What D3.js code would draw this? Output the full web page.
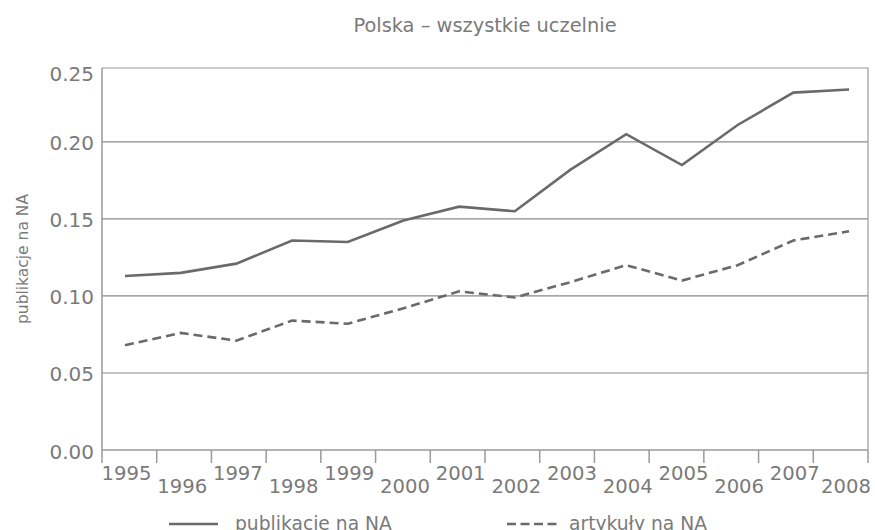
<!DOCTYPE html>
<html><head><meta charset="utf-8">
<script src="https://cdn.jsdelivr.net/npm/d3@7"></script>
<style>
html,body{margin:0;padding:0;background:#fff;}
svg{display:block;}
text{font-family:"DejaVu Sans",sans-serif;fill:#7a7a7a;}
</style></head>
<body>
<svg id="chart" width="875" height="530"></svg>
<script>
const years = ["1995","1996","1997","1998","1999","2000","2001","2002","2003","2004","2005","2006","2007","2008"];
const publikacje = [0.113,0.115,0.121,0.136,0.135,0.149,0.158,0.155,0.182,0.205,0.185,0.211,0.232,0.234];
const artykuly = [0.068,0.076,0.071,0.084,0.082,0.092,0.103,0.099,0.109,0.120,0.110,0.120,0.136,0.142];
const yTicks = [0,0.05,0.10,0.15,0.20,0.25];
const title = "Polska – wszystkie uczelnie";
const yLabel = "publikacje na NA";
const seriesNames = ["publikacje na NA","artykuły na NA"];

const svg = d3.select("#chart");
const L = 102, R = 868, T = 68, B = 450;
const x = d3.scalePoint().domain(years).range([125, 849]);
const tickPos = d3.scaleLinear().domain([0, years.length]).range([L, R]);
const y = d3.scaleLinear().domain([0, 0.248]).range([B, T]);
const gridC = "#8a8a8a", lineC = "#6a6a6a";

// gridlines
svg.append("g").selectAll("line").data(yTicks.filter(v => v > 0 && v < 0.25)).join("line")
  .attr("x1", L).attr("x2", R).attr("y1", d => y(d)).attr("y2", d => y(d))
  .attr("stroke", gridC).attr("stroke-width", 1.2);
// frame top & right
svg.append("path").attr("d", `M${L},${T}H${R}V${B}`).attr("fill","none").attr("stroke","#9a9a9a").attr("stroke-width",1.2);
// left axis
svg.append("line").attr("x1",L).attr("x2",L).attr("y1",T).attr("y2",B).attr("stroke","#9a9a9a").attr("stroke-width",1.5);
// y tick labels
svg.append("g").selectAll("text").data(yTicks).join("text")
  .attr("x", 94).attr("y", d => d === 0.25 ? T + 7 : y(d) + 3)
  .attr("text-anchor","end").attr("dominant-baseline","middle")
  .style("font-size","20px").text(d => d3.format(".2f")(d));
// x axis
svg.append("line").attr("x1",L).attr("x2",R).attr("y1",B).attr("y2",B).attr("stroke","#9a9a9a").attr("stroke-width",1.5);
svg.append("g").selectAll("line").data(d3.range(years.length + 1)).join("line")
  .attr("x1", d => tickPos(d)).attr("x2", d => tickPos(d)).attr("y1", B).attr("y2", B + 13)
  .attr("stroke","#9a9a9a").attr("stroke-width",1.5);
svg.append("g").selectAll("text").data(years).join("text")
  .attr("x", d => Math.min(x(d) + 1.5, 846)).attr("y", (d,i) => i % 2 === 0 ? 480 : 493)
  .attr("text-anchor","middle").style("font-size","19.6px").text(d => d);

// lines
const line = d3.line().x((d,i) => x(years[i])).y(d => y(d));
svg.append("path").datum(publikacje).attr("d", line).attr("fill","none")
  .attr("stroke", lineC).attr("stroke-width", 2.6);
svg.append("path").datum(artykuly).attr("d", line).attr("fill","none")
  .attr("stroke", lineC).attr("stroke-width", 2.6).attr("stroke-dasharray","9,5");

// title
svg.append("text").attr("x", (L + R) / 2).attr("y", 32).attr("text-anchor","middle")
  .style("font-size","19.4px").text(title);
// y label
svg.append("text").attr("transform", `translate(28,${(T + B) / 2}) rotate(-90)`)
  .attr("text-anchor","middle").style("font-size","15.5px").text(yLabel);

// legend
const leg = [{x1:169,x2:218,tx:235,dash:null},{x1:507,x2:557,tx:569,dash:"9,4.5"}];
leg.forEach((l,i) => {
  svg.append("line").attr("x1",l.x1).attr("x2",l.x2).attr("y1",524).attr("y2",524)
    .attr("stroke",lineC).attr("stroke-width",2.6).attr("stroke-dasharray",l.dash);
  svg.append("text").attr("x",l.tx).attr("y",529.5).style("font-size","18.7px").text(seriesNames[i]);
});
</script>
</body></html>
